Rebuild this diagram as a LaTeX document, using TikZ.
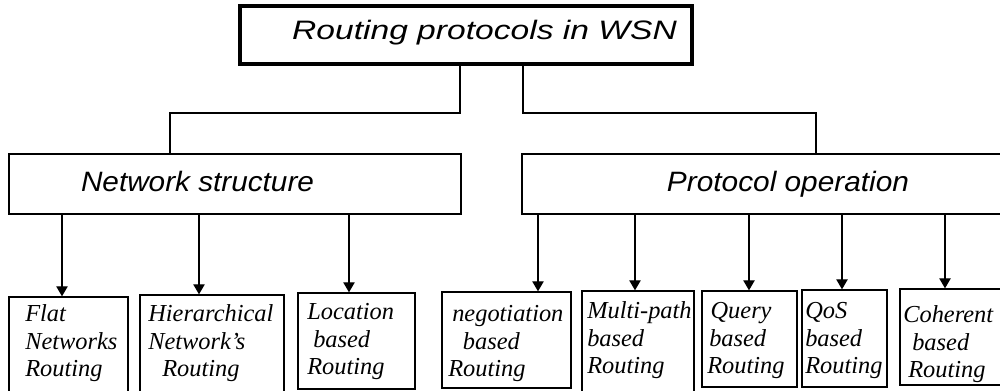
\documentclass[tikz,border=0pt]{standalone}
\usepackage{fontspec}
\usepackage{graphicx}
\setmainfont{Liberation Serif}
\setsansfont{Liberation Sans}
\usetikzlibrary{arrows.meta,fit}
\newcommand{\lft}[1]{\begin{tabular}[t]{@{}l@{}}#1\end{tabular}}
\begin{document}
\begin{tikzpicture}[x=0.75pt,y=-0.75pt,
  box/.style={draw, line width=1pt, inner sep=0pt},
  ln/.style={draw, line width=1pt},
  arr/.style={draw, line width=1pt, -{Triangle[length=7.5pt,width=8.5pt]}},
  leaf/.style={anchor=base west, inner sep=0pt, font=\fontsize{18.3}{20.6}\selectfont\itshape},
  head/.style={anchor=base, inner sep=0pt}]
\useasboundingbox (0,0) rectangle (1000,391);
\clip (0,0) rectangle (1000,391);

% root
\node[box, line width=2.6pt, fit={(240,6) (692,64)}] (root) {};
\node[head] (roott) at (484.5,40) {\scalebox{1.26}[1]{\sffamily\itshape\fontsize{20}{24}\selectfont Routing protocols in WSN}};

% second level
\node[box, fit={(9,154) (461,214)}] (net) {};
\node[head] (nett) at (197.5,192) {\scalebox{1.062}[1]{\sffamily\itshape\fontsize{21}{25}\selectfont Network structure}};
\node[box, fit={(522,154) (1010,214)}] (proto) {};
\node[head] (protot) at (788,192) {\scalebox{1.065}[1]{\sffamily\itshape\fontsize{21}{25}\selectfont Protocol operation}};

% connectors from root
\coordinate (ja) at (460,113);
\coordinate (jb) at (523,113);
\coordinate (na) at (170,0);
\coordinate (pa) at (816,0);
\draw[ln] (root.south -| ja) -- (ja) -| (net.north -| na);
\draw[ln] (root.south -| jb) -- (jb) -| (proto.north -| pa);

% leaves
\node[box, fit={(9,297) (128,400)}] (flat) {};
\node[leaf] (flatt) at (25,322) {\lft{Flat\\Networks\\Routing}};
\node[box, fit={(140,295) (284,400)}] (hier) {};
\node[leaf] (hiert) at (148,322) {\lft{Hierarchical\\Network's\\\hspace*{10.5pt}Routing}};
\node[box, fit={(298,293) (415,389)}] (loc) {};
\node[leaf] (loct) at (307,320) {\lft{Location\\\hspace*{4.5pt}based\\Routing}};
\node[box, fit={(442,292) (571,388)}] (neg) {};
\node[leaf] (negt) at (448,322) {\lft{\hspace*{3pt}negotiation\\\hspace*{11pt}based\\Routing}};
\node[box, fit={(582,291) (694,400)}] (multi) {};
\node[leaf] (multit) at (587,319) {\lft{Multi-path\\based\\Routing}};
\node[box, fit={(702,291) (797,387)}] (query) {};
\node[leaf] (queryt) at (707,319) {\lft{\hspace*{2.5pt}Query\\\hspace*{1.5pt}based\\Routing}};
\node[box, fit={(802,290) (887,387)}] (qos) {};
\node[leaf] (qost) at (805,319) {\lft{QoS\\based\\Routing}};
\node[box, fit={(900,289) (1010,385)}] (coh) {};
\node[leaf] (coht) at (903,323) {\lft{Coherent\\\hspace*{6.75pt}based\\\hspace*{3.75pt}Routing}};

% arrows
\coordinate (xa) at (62,0);
\coordinate (xb) at (199,0);
\coordinate (xc) at (349,0);
\coordinate (xd) at (538,0);
\coordinate (xe) at (635,0);
\coordinate (xf) at (749,0);
\coordinate (xg) at (842,0);
\coordinate (xh) at (945,0);
\draw[arr] (net.south -| xa) -- (flat.north -| xa);
\draw[arr] (net.south -| xb) -- (hier.north -| xb);
\draw[arr] (net.south -| xc) -- (loc.north -| xc);
\draw[arr] (proto.south -| xd) -- (neg.north -| xd);
\draw[arr] (proto.south -| xe) -- (multi.north -| xe);
\draw[arr] (proto.south -| xf) -- (query.north -| xf);
\draw[arr] (proto.south -| xg) -- (qos.north -| xg);
\draw[arr] (proto.south -| xh) -- (coh.north -| xh);
\end{tikzpicture}
\end{document}
